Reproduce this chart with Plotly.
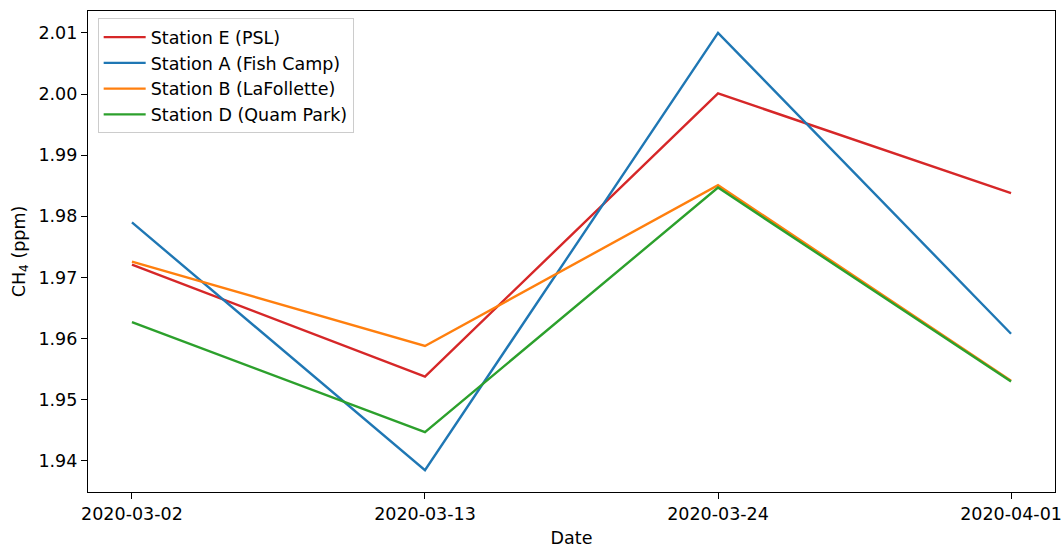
import plotly.graph_objects as go

# Sampling dates (evenly spaced categorical axis)
dates = ["2020-03-02", "2020-03-13", "2020-03-24", "2020-04-01"]

# CH4 concentrations (ppm) per station
station_e = [1.9721, 1.9538, 2.0001, 1.9838]
station_a = [1.9790, 1.9385, 2.0100, 1.9608]
station_b = [1.9726, 1.9588, 1.9851, 1.9531]
station_d = [1.9627, 1.9447, 1.9847, 1.9530]

names = ["Station E (PSL)", "Station A (Fish Camp)", "Station B (LaFollette)", "Station D (Quam Park)"]
colors = ["#d62728", "#1f77b4", "#ff7f0e", "#2ca02c"]
series = [station_e, station_a, station_b, station_d]

fig = go.Figure()
for name, color, vals in zip(names, colors, series):
    fig.add_trace(go.Scatter(x=dates, y=vals, mode="lines", name=name,
                             line=dict(color=color, width=2.4)))

# 5% padding around the data extent, like matplotlib's autoscale
all_vals = [v for s in series for v in s]
lo, hi = min(all_vals), max(all_vals)
pad = (hi - lo) * 0.05
n = len(dates)

font = dict(family="DejaVu Sans", size=17.5, color="black")

fig.update_layout(
    width=1063, height=548,
    margin=dict(l=88, r=8, t=11, b=56),
    paper_bgcolor="white", plot_bgcolor="white",
    font=font,
    showlegend=True,
    legend=dict(x=0.01, y=0.985, xanchor="left", yanchor="top",
                bgcolor="rgba(255,255,255,0.8)", bordercolor="#cccccc", borderwidth=1,
                font=font, itemwidth=42, tracegroupgap=0),
    xaxis=dict(type="category", range=[-0.05 * (n - 1), (n - 1) * 1.05],
               automargin=False,
               showline=True, linecolor="black", linewidth=1.2, mirror=True,
               ticks="outside", ticklen=6, tickcolor="black", showgrid=False,
               title=dict(text="Date", standoff=10, font=font), tickfont=font),
    yaxis=dict(range=[lo - pad, hi + pad], tickmode="array",
               tickvals=[1.94, 1.95, 1.96, 1.97, 1.98, 1.99, 2.00, 2.01],
               ticktext=["1.94", "1.95", "1.96", "1.97", "1.98", "1.99", "2.00", "2.01"],
               automargin=False,
               showline=True, linecolor="black", linewidth=1.2, mirror=True,
               ticks="outside", ticklen=6, tickcolor="black", showgrid=False,
               zeroline=False,
               title=dict(text="CH<sub>4</sub> (ppm)", standoff=8, font=font), tickfont=font),
)

fig.write_html("out.html")
